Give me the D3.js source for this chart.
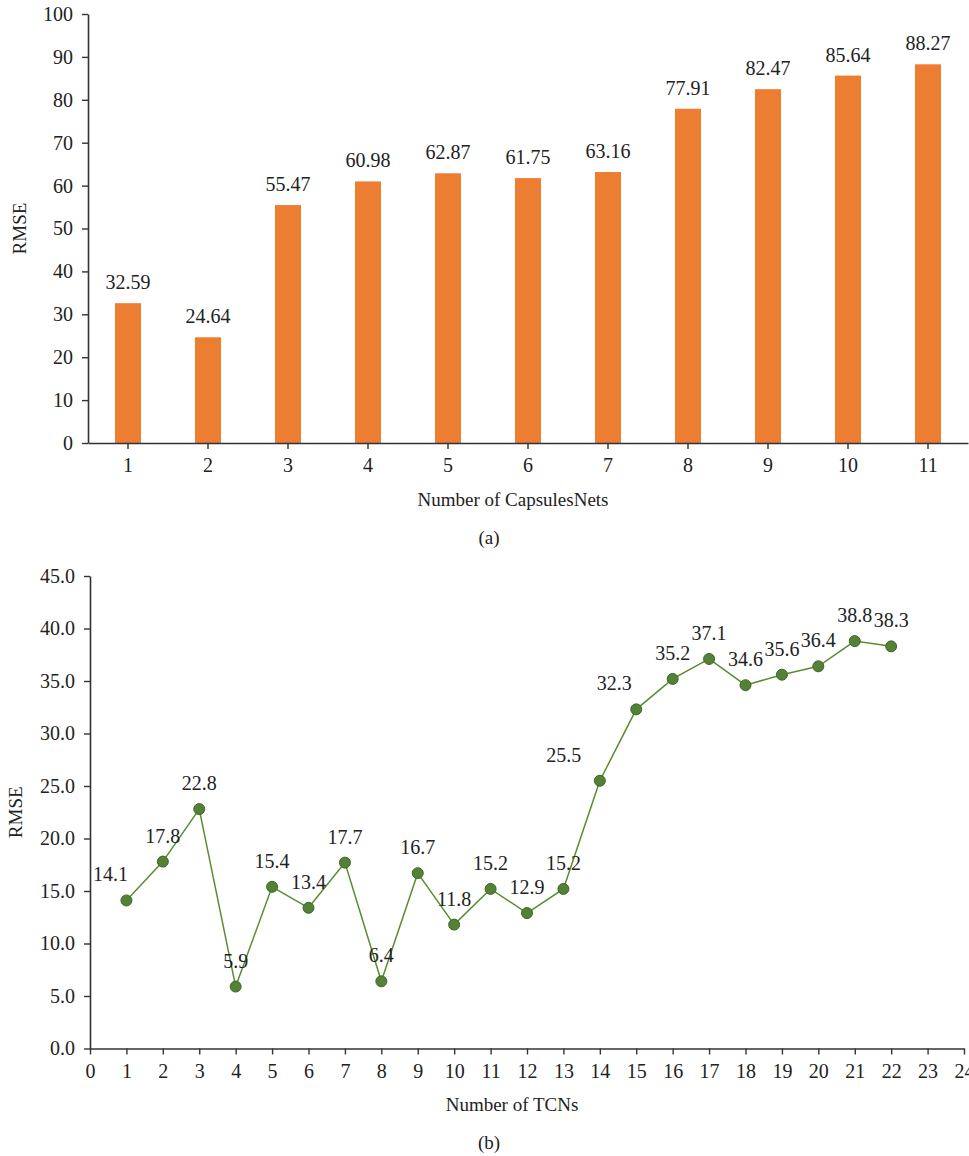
<!DOCTYPE html>
<html>
<head>
<meta charset="utf-8">
<script src="https://cdn.jsdelivr.net/npm/d3@7"></script>
<style>
  html, body { margin: 0; padding: 0; background: #fff; }
  svg { display: block; }
  text { font-family: "Liberation Serif", "DejaVu Serif", serif; fill: #222; }
</style>
</head>
<body>
<svg id="chart" width="969" height="1156"></svg>
<script>
// (a) RMSE against the number of CapsulesNets
const capsCategories = ["1", "2", "3", "4", "5", "6", "7", "8", "9", "10", "11"];
const capsRmse = [32.59, 24.64, 55.47, 60.98, 62.87, 61.75, 63.16, 77.91, 82.47, 85.64, 88.27];
const capsTicks = [0, 10, 20, 30, 40, 50, 60, 70, 80, 90, 100];

// (b) RMSE against the number of TCNs
const tcnCounts = [1, 2, 3, 4, 5, 6, 7, 8, 9, 10, 11, 12, 13, 14, 15, 16, 17, 18, 19, 20, 21, 22];
const tcnRmse = [14.1, 17.8, 22.8, 5.9, 15.4, 13.4, 17.7, 6.4, 16.7, 11.8, 15.2, 12.9, 15.2, 25.5, 32.3, 35.2, 37.1, 34.6, 35.6, 36.4, 38.8, 38.3];
const tcnYTicks = [0, 5, 10, 15, 20, 25, 30, 35, 40, 45];
const tcnXTicks = d3.range(0, 25);

const svg = d3.select("#chart");
const axisColor = "#333";
const numSize = 20;
const titleSize = 19;

function styleAxis(g) {
  g.attr("font-family", null);
  g.select(".domain").attr("stroke", axisColor).attr("stroke-width", 1.6);
  g.selectAll(".tick line").attr("stroke", axisColor).attr("stroke-width", 1.4);
  g.selectAll(".tick text").attr("font-size", numSize).attr("fill", "#222");
}

// ---------- Panel (a): bar chart ----------
{
  const left = 88, right = 968, top = 14, bottom = 443;
  const x = d3.scaleBand().domain(capsCategories).range([left, right]).paddingInner(0.675).paddingOuter(0.3375);
  const y = d3.scaleLinear().domain([0, 100]).range([bottom, top]);

  svg.append("g").selectAll("rect")
    .data(capsRmse)
    .join("rect")
    .attr("x", (d, i) => x(capsCategories[i]))
    .attr("y", d => y(d))
    .attr("width", x.bandwidth())
    .attr("height", d => y(0) - y(d))
    .attr("fill", "#ED7D31");

  svg.append("g").selectAll("text")
    .data(capsRmse)
    .join("text")
    .attr("x", (d, i) => x(capsCategories[i]) + x.bandwidth() / 2)
    .attr("y", d => y(d) - 14)
    .attr("text-anchor", "middle")
    .attr("font-size", numSize)
    .text(d => d.toFixed(2));

  const gx = svg.append("g").attr("transform", `translate(0,${bottom})`)
    .call(d3.axisBottom(x).tickSizeOuter(0).tickSizeInner(6).tickPadding(9));
  styleAxis(gx);

  const gy = svg.append("g").attr("transform", `translate(${left},0)`)
    .call(d3.axisLeft(y).tickValues(capsTicks).tickSizeOuter(0).tickSizeInner(6).tickPadding(9));
  styleAxis(gy);

  svg.append("text")
    .attr("transform", `translate(26,${(top + bottom) / 2}) rotate(-90)`)
    .attr("text-anchor", "middle")
    .attr("font-size", titleSize)
    .text("RMSE");

  svg.append("text")
    .attr("x", 513).attr("y", 506)
    .attr("text-anchor", "middle")
    .attr("font-size", titleSize)
    .text("Number of CapsulesNets");

  svg.append("text")
    .attr("x", 489).attr("y", 544)
    .attr("text-anchor", "middle")
    .attr("font-size", titleSize)
    .text("(a)");
}

// ---------- Panel (b): line chart ----------
{
  const left = 90, right = 964, top = 576, bottom = 1048.5;
  const x = d3.scaleLinear().domain([0, 24]).range([left, right]);
  const y = d3.scaleLinear().domain([0, 45]).range([bottom, top]);
  const lineColor = "#5B8C30";

  const pts = tcnCounts.map((c, i) => ({ c, v: tcnRmse[i], i }));

  svg.append("path")
    .datum(pts)
    .attr("fill", "none")
    .attr("stroke", lineColor)
    .attr("stroke-width", 1.5)
    .attr("d", d3.line().x(d => x(d.c)).y(d => y(d.v)));

  svg.append("g").selectAll("circle")
    .data(pts)
    .join("circle")
    .attr("cx", d => x(d.c))
    .attr("cy", d => y(d.v))
    .attr("r", 5.5)
    .attr("fill", "#538135")
    .attr("stroke", "#3E6626")
    .attr("stroke-width", 1);

  // a few labels are nudged left so they clear the rising line
  const labelNudge = { 0: -16, 13: -36, 14: -22 };
  svg.append("g").selectAll("text")
    .data(pts)
    .join("text")
    .attr("x", d => x(d.c) + (labelNudge[d.i] || 0))
    .attr("y", d => y(d.v) - 19)
    .attr("text-anchor", "middle")
    .attr("font-size", numSize)
    .text(d => d.v.toFixed(1));

  const gx = svg.append("g").attr("transform", `translate(0,${bottom})`)
    .call(d3.axisBottom(x).tickValues(tcnXTicks).tickFormat(d3.format("d")).tickSizeOuter(0).tickSizeInner(6).tickPadding(9));
  styleAxis(gx);

  const gy = svg.append("g").attr("transform", `translate(${left},0)`)
    .call(d3.axisLeft(y).tickValues(tcnYTicks).tickFormat(d3.format(".1f")).tickSizeOuter(0).tickSizeInner(6).tickPadding(9));
  styleAxis(gy);

  svg.append("text")
    .attr("transform", `translate(22,${(top + bottom) / 2}) rotate(-90)`)
    .attr("text-anchor", "middle")
    .attr("font-size", titleSize)
    .text("RMSE");

  svg.append("text")
    .attr("x", 512).attr("y", 1111)
    .attr("text-anchor", "middle")
    .attr("font-size", titleSize)
    .text("Number of TCNs");

  svg.append("text")
    .attr("x", 489).attr("y", 1149)
    .attr("text-anchor", "middle")
    .attr("font-size", titleSize)
    .text("(b)");
}
</script>
</body>
</html>
